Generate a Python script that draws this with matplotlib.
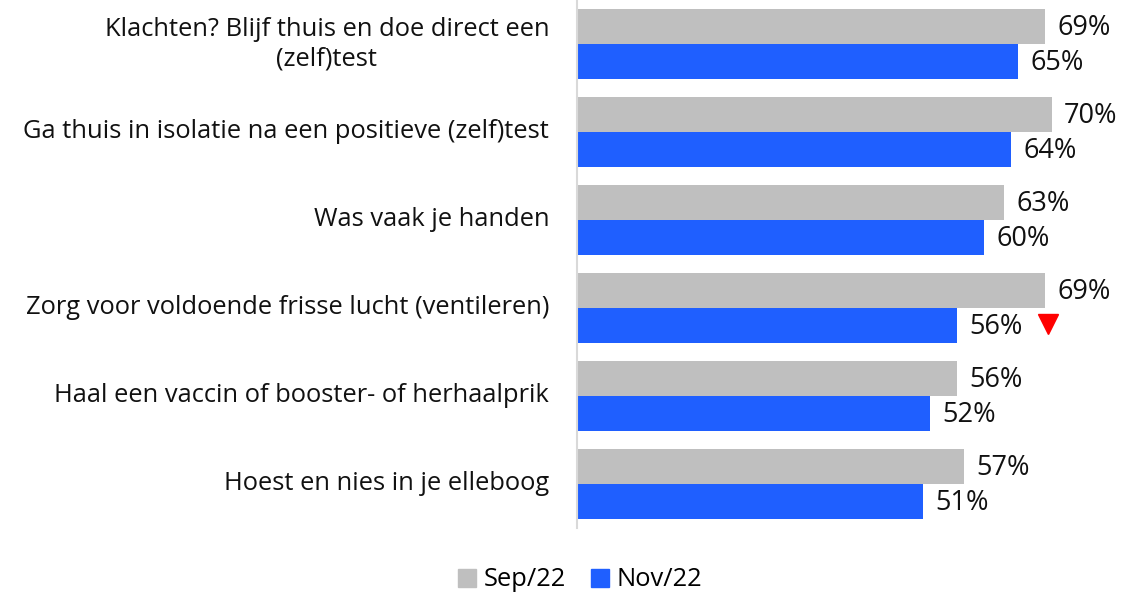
import numpy as np
import matplotlib.pyplot as plt
from matplotlib.patches import Patch

categories = [
    'Klachten? Blijf thuis en doe direct een\n(zelf)test',
    'Ga thuis in isolatie na een positieve (zelf)test',
    'Was vaak je handen',
    'Zorg voor voldoende frisse lucht (ventileren)',
    'Haal een vaccin of booster- of herhaalprik',
    'Hoest en nies in je elleboog',
]
sep22 = [69, 70, 63, 69, 56, 57]
nov22 = [65, 64, 60, 56, 52, 51]
series_names = ['Sep/22', 'Nov/22']
# significant drop marker (index of category)
drop_idx = [3]

GREY = '#BFBFBF'
BLUE = '#1F5FFF'
FS = 18.4

plt.rcParams['font.family'] = ['Open Sans', 'DejaVu Sans']

fig = plt.figure(figsize=(11.48, 5.94), dpi=100)
ax = fig.add_axes([577 / 1148, 1 - 528 / 594, 540 / 1148, 528 / 594])

y = np.arange(len(categories))
h = 0.4
ax.barh(y - h / 2, sep22, height=h, color=GREY)
ax.barh(y + h / 2, nov22, height=h, color=BLUE)

ax.set_xlim(0, 79.6)
ax.set_ylim(len(categories) - 0.5, -0.5)

for i in range(len(categories)):
    ax.text(sep22[i] + 1.8, y[i] - h / 2 + 0.02, f'{sep22[i]}%', va='center', ha='left',
            fontsize=19.5, color='#111111')
    ax.text(nov22[i] + 1.8, y[i] + h / 2 + 0.02, f'{nov22[i]}%', va='center', ha='left',
            fontsize=19.5, color='#111111')
    ax.text(-4.1, y[i], categories[i], va='center', ha='right', multialignment='center',
            fontsize=FS, color='#111111', linespacing=1.25)

for i in drop_idx:
    ax.plot(69.4, y[i] + h / 2 - 0.02, marker='v', color='#FF0000',
            markersize=14, linestyle='none')

for s in ['top', 'right', 'bottom']:
    ax.spines[s].set_visible(False)
ax.spines['left'].set_color('#D9D9D9')
ax.spines['left'].set_linewidth(1.5)
ax.set_xticks([])
ax.set_yticks([])

handles = [Patch(color=GREY, label=series_names[0]), Patch(color=BLUE, label=series_names[1])]
fig.legend(handles=handles, loc='center', bbox_to_anchor=(580 / 1148, 1 - 580 / 594), ncol=2,
           frameon=False, fontsize=FS, handlelength=0.7, handleheight=0.7,
           handletextpad=0.3, columnspacing=1.0)

fig.savefig('out.png', dpi=100)
